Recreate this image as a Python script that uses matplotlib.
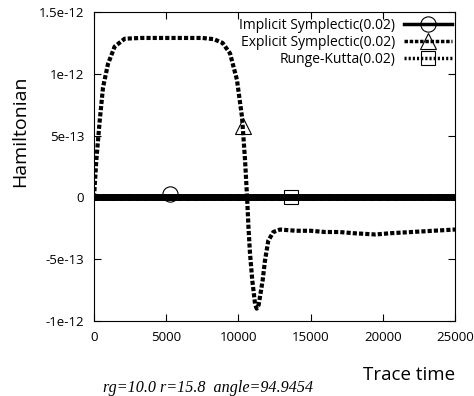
import numpy as np
import matplotlib
matplotlib.use("Agg")
import matplotlib.pyplot as plt

# data (Hamiltonian in units of 1e-12)
t_imp = [0, 5000, 10000, 15000, 20000, 25000]
h_imp = [0, 0, 0, 0, 0, 0]
t_rk = [0, 5000, 10000, 15000, 20000, 25000]
h_rk = [0, 0, 0, 0, 0, 0]
t_exp = [0, 160, 395, 625, 970, 1430, 2125, 3250, 4500, 6000, 7500, 8300, 8900,
         9420, 9900, 10250, 10460, 10600, 10700, 10800, 10960, 11150, 11265, 11400,
         11500, 11680, 11840, 12070, 12420, 12880, 14000, 15000, 16000, 17000,
         18000, 19500, 20500, 22000, 23500, 25000]
h_exp = [0, 0.30, 0.62, 0.89, 1.08, 1.22, 1.284, 1.29, 1.29, 1.29, 1.29, 1.28, 1.25,
         1.165, 0.95, 0.65, 0.30, 0.0, -0.25, -0.45, -0.67, -0.86, -0.90, -0.87,
         -0.80, -0.67, -0.51, -0.35, -0.28, -0.26, -0.27, -0.27, -0.28, -0.28,
         -0.29, -0.30, -0.29, -0.28, -0.27, -0.26]
mark_t = [5260, 10340, 13620]
mark_h = [0.03, 0.58, 0.0]

labels = ["Implicit Symplectic(0.02)", "Explicit Symplectic(0.02)", "Runge-Kutta(0.02)"]
yticks = [-1.0, -0.5, 0, 0.5, 1.0, 1.5]
yticklabels = ["-1e-12", "-5e-13", "0", "5e-13", "1e-12", "1.5e-12"]
xticks = [0, 5000, 10000, 15000, 20000, 25000]

sc = 1e-12
plt.rcParams["font.family"] = ["Open Sans", "DejaVu Sans"]

fig = plt.figure(figsize=(4.74, 3.96), dpi=100)
ax = fig.add_axes([0.1983, 0.1894, 0.7617, 0.7803])

ax.plot(t_imp, np.array(h_imp) * sc, color="black", lw=5, solid_capstyle="butt")
ax.plot(t_rk, np.array(h_rk) * sc, color="black", lw=5, ls=(0, (0.6, 0.6)))
ax.plot(t_exp, np.array(h_exp) * sc, color="black", lw=3.0, ls=(0, (1.0, 0.5)))

ms = [11, 12, 10]
mk = ["o", "^", "s"]
for i in range(3):
    ax.plot(mark_t[i], mark_h[i] * sc, marker=mk[i], ms=ms[i], mfc="none",
            mec="black", mew=0.8, ls="none")

# legend proxies
h1, = ax.plot([], [], color="black", lw=2.5, marker="o", ms=11, mfc="none", mec="black", mew=0.8)
h2, = ax.plot([], [], color="black", lw=2.5, ls=(0, (1.0, 0.5)), marker="^", ms=12, mfc="none", mec="black", mew=0.8)
h3, = ax.plot([], [], color="black", lw=2.5, ls=(0, (0.6, 0.6)), marker="s", ms=10, mfc="none", mec="black", mew=0.8)
ax.legend([h1, h2, h3], labels, loc="upper right", bbox_to_anchor=(1.0, 0.991),
          markerfirst=False, frameon=False, fontsize=10, handlelength=3.5,
          handletextpad=0.6, labelspacing=0.15, borderaxespad=0.0, borderpad=0.2,
          numpoints=1)

ax.set_xlim(0, 25000)
ax.set_ylim(-1.0 * sc, 1.5 * sc)
ax.set_xticks(xticks)
ax.set_xticklabels([str(x) for x in xticks])
ax.set_yticks(np.array(yticks) * sc)
ax.set_yticklabels(yticklabels)
ax.tick_params(direction="in", length=5, width=0.8, top=True, right=True, labelsize=9.5)
ax.tick_params(axis="x", pad=7)
ax.tick_params(axis="y", pad=7)
for s in ax.spines.values():
    s.set_linewidth(0.8)

fig.text(0.042, 0.669, "Hamiltonian", rotation=90, ha="center", va="center", fontsize=14)
fig.text(0.96, 0.053, "Trace time", ha="right", va="center", fontsize=13.5)
fig.text(0.217, 0.01, "rg=10.0 r=15.8  angle=94.9454", family="Liberation Serif",
         style="italic", fontsize=11.6, ha="left", va="baseline")

fig.savefig("out.png", dpi=100)
